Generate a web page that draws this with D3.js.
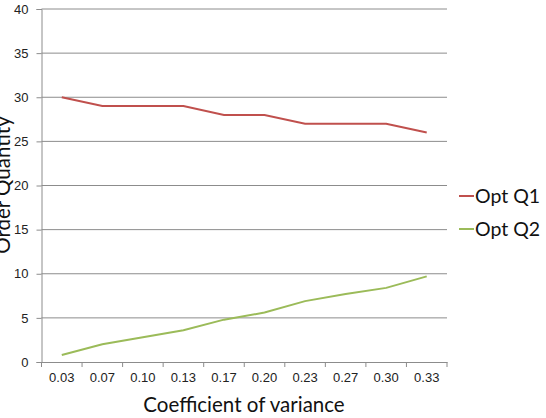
<!DOCTYPE html>
<html>
<head>
<meta charset="utf-8">
<script src="https://cdn.jsdelivr.net/npm/d3@7"></script>
<style>
  body { margin: 0; background: #fff; }
  svg { font-family: Lato, "Open Sans", sans-serif; display: block; }
</style>
</head>
<body>
<svg></svg>
<script>
// chart data
const categories = ['0.03', '0.07', '0.10', '0.13', '0.17', '0.20', '0.23', '0.27', '0.30', '0.33'];
const optQ1 = [30, 29, 29, 29, 28, 28, 27, 27, 27, 26];
const optQ2 = [0.8, 2.0, 2.8, 3.6, 4.8, 5.6, 6.9, 7.7, 8.4, 9.7];
const yTicks = [0, 5, 10, 15, 20, 25, 30, 35, 40];
const seriesNames = ['Opt Q1', 'Opt Q2'];
const seriesColors = ['#C0504D', '#9BBB59'];

const size = {w: 546, h: 418};
const plot = {l: 41.5, r: 447, t: 9, b: 362};
const svg = d3.select('svg').attr('width', size.w).attr('height', size.h);

const x = d3.scaleBand().domain(categories).range([plot.l, plot.r]);
const y = d3.scaleLinear().domain([0, 40]).range([plot.b, plot.t]);

// gridlines
svg.append('g')
    .selectAll('line')
    .data(yTicks.filter(d => d > 0))
    .join('line')
    .attr('x1', plot.l).attr('x2', plot.r)
    .attr('y1', d => y(d)).attr('y2', d => y(d))
    .attr('stroke', '#8c8c8c').attr('stroke-width', 1);

// y axis
const yAxis = svg.append('g')
    .attr('transform', `translate(${plot.l},0)`)
    .call(d3.axisLeft(y).tickValues(yTicks).tickSize(5).tickPadding(8));
yAxis.select('.domain').attr('stroke', '#8c8c8c');
yAxis.selectAll('.tick line').attr('stroke', '#8c8c8c');
yAxis.selectAll('text').attr('font-size', 13).attr('fill', '#222');

// x axis, ticks at band edges
const xAxis = svg.append('g')
    .attr('transform', `translate(0,${plot.b})`)
    .call(d3.axisBottom(x).tickSize(0).tickPadding(11));
xAxis.select('.domain').attr('stroke', '#8c8c8c');
xAxis.selectAll('text').attr('font-size', 13).attr('fill', '#222');
xAxis.selectAll('.edge')
    .data(categories.map(c => x(c)).concat([plot.r]))
    .join('line')
    .attr('x1', d => d).attr('x2', d => d)
    .attr('y1', 0).attr('y2', 5)
    .attr('stroke', '#8c8c8c');

// lines
const line = d3.line()
    .x((d, i) => x(categories[i]) + x.bandwidth() / 2)
    .y(d => y(d));

[optQ1, optQ2].forEach((s, i) => {
    svg.append('path')
        .datum(s)
        .attr('d', line)
        .attr('fill', 'none')
        .attr('stroke', seriesColors[i])
        .attr('stroke-width', 2);
});

// axis titles
svg.append('text')
    .attr('x', 244).attr('y', 412)
    .attr('text-anchor', 'middle')
    .attr('font-size', 20.5)
    .attr('fill', '#111')
    .text('Coefficient of variance');

svg.append('text')
    .attr('transform', 'translate(10,185) rotate(-90)')
    .attr('text-anchor', 'middle')
    .attr('font-size', 20.5)
    .attr('fill', '#111')
    .text('Order Quantity');

// legend
const legend = svg.append('g')
    .selectAll('g')
    .data(seriesNames)
    .join('g')
    .attr('transform', (d, i) => `translate(459,${196 + i * 33})`);
legend.append('line')
    .attr('x1', 0).attr('x2', 15)
    .attr('stroke', (d, i) => seriesColors[i])
    .attr('stroke-width', 2);
legend.append('text')
    .attr('x', 16).attr('dy', '0.35em')
    .attr('font-size', 19.5)
    .attr('fill', '#111')
    .text(d => d);
</script>
</body>
</html>
